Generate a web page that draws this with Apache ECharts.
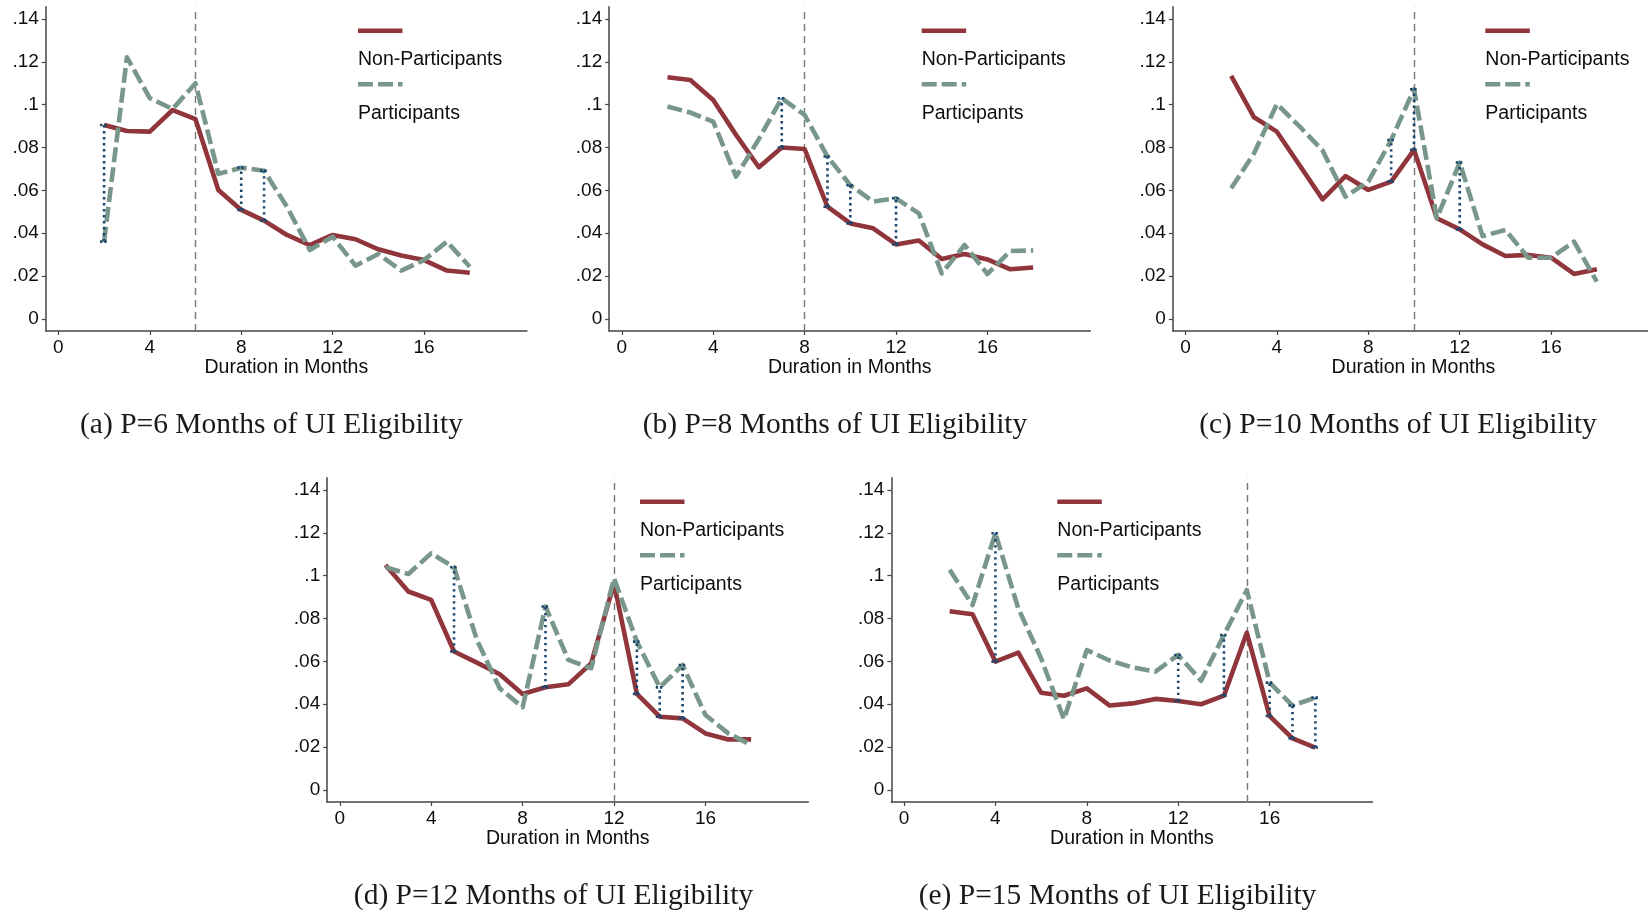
<!DOCTYPE html>
<html><head><meta charset="utf-8">
<script src="https://cdn.jsdelivr.net/npm/echarts@6/dist/echarts.min.js"></script>
<style>html,body{margin:0;padding:0;background:#fff}#c{width:1648px;height:910px}</style>
</head><body><div id="c"></div>
<script>
// ---- data ----
const months = [2,3,4,5,6,7,8,9,10,11,12,13,14,15,16,17,18];
const xTicks = [0,4,8,12,16];
const yTicks = [0,0.02,0.04,0.06,0.08,0.1,0.12,0.14];
const seriesNames = ['Non-Participants','Participants'];
const axisName = 'Duration in Months';
const cutoffs = [6,8,10,12,15];
const captions = ['(a) P=6 Months of UI Eligibility','(b) P=8 Months of UI Eligibility','(c) P=10 Months of UI Eligibility','(d) P=12 Months of UI Eligibility','(e) P=15 Months of UI Eligibility'];

const nonA  = [0.0905,0.0877,0.0874,0.0975,0.0932,0.0602,0.0509,0.0459,0.0392,0.0345,0.0392,0.0372,0.0325,0.0296,0.0275,0.0226,0.0216];
const partA = [0.0361,0.1221,0.1030,0.0980,0.1100,0.0677,0.0706,0.0692,0.0524,0.0322,0.0384,0.0249,0.0303,0.0226,0.0275,0.0361,0.0244];
const gapA  = [2,8,9];

const nonB  = [0.1128,0.1115,0.1022,0.0859,0.0708,0.0800,0.0793,0.0524,0.0446,0.0423,0.0348,0.0366,0.0280,0.0303,0.0278,0.0232,0.0240];
const partB = [0.0991,0.0963,0.0921,0.0664,0.0840,0.1030,0.0952,0.0758,0.0624,0.0548,0.0563,0.0493,0.0213,0.0345,0.0210,0.0317,0.0320];
const gapB  = [7,9,10,12];

const nonC  = [0.1134,0.0941,0.0874,0.0716,0.0558,0.0667,0.0602,0.0641,0.0789,0.0470,0.0418,0.0348,0.0294,0.0299,0.0286,0.0210,0.0232];
const partC = [0.0610,0.0773,0.1003,0.0898,0.0786,0.0571,0.0641,0.0835,0.1072,0.0470,0.0730,0.0387,0.0415,0.0286,0.0286,0.0361,0.0174];
const gapC  = [9,10,12];

const nonD  = [0.1050,0.0926,0.0887,0.0646,0.0594,0.0540,0.0448,0.0479,0.0493,0.0591,0.0964,0.0448,0.0342,0.0334,0.0264,0.0236,0.0236];
const partD = [0.1039,0.1008,0.1104,0.1039,0.0700,0.0474,0.0386,0.0856,0.0607,0.0568,0.0988,0.0692,0.0479,0.0583,0.0350,0.0264,0.0210];
const gapD  = [5,9,13,14,15];

const nonE  = [0.0834,0.0820,0.0599,0.0641,0.0454,0.0440,0.0474,0.0394,0.0404,0.0425,0.0415,0.0400,0.0440,0.0734,0.0345,0.0241,0.0198];
const partE = [0.1027,0.0863,0.1198,0.0848,0.0614,0.0330,0.0653,0.0604,0.0572,0.0552,0.0630,0.0510,0.0723,0.0933,0.0501,0.0394,0.0431];
const gapE  = [4,12,14,16,17,18];

// ---- layout / style ----
const RED = '#90353B', GREEN = '#78978A', NAVY = '#1A476F', AXIS = '#444', TXT = '#0d0d0d';
const SANS = '"Liberation Sans", Arial, sans-serif';
const SERIF = '"Liberation Serif", "Times New Roman", serif';
const GW = 481.1, GH = 324.3;
const panels = [
  {non: nonA, part: partA, gaps: gapA, left: 45.8,   top: 6.7,   legX: 358,    capX: 271.5,  capY: 425},
  {non: nonB, part: partB, gaps: gapB, left: 609.2,  top: 6.7,   legX: 921.7,  capX: 835,    capY: 425},
  {non: nonC, part: partC, gaps: gapC, left: 1172.9, top: 6.7,   legX: 1485.3, capX: 1398,   capY: 425},
  {non: nonD, part: partD, gaps: gapD, left: 327.2,  top: 477.7, legX: 640,    capX: 553.5,  capY: 896},
  {non: nonE, part: partE, gaps: gapE, left: 891.4,  top: 477.7, legX: 1057.3, capX: 1117.5, capY: 896}
];

function yFmt(v) {
  if (Math.abs(v) < 1e-9) return '0';
  return String(+v.toFixed(2)).replace(/^0/, '');
}

const grids = [], xAxes = [], yAxes = [], series = [], graphics = [];
panels.forEach((p, i) => {
  grids.push({left: p.left, top: p.top, width: GW, height: GH, containLabel: false, outerBoundsMode: 'none'});
  xAxes.push({
    type: 'value', gridIndex: i, min: -0.55, max: 20.5,
    axisLine: {show: true, onZero: false, lineStyle: {color: AXIS, width: 1.5}},
    axisTick: {show: true, length: 4, customValues: xTicks, lineStyle: {color: AXIS, width: 1.2}},
    axisLabel: {customValues: xTicks, fontSize: 19, color: TXT, margin: 7, fontFamily: SANS},
    splitLine: {show: false},
    name: axisName, nameLocation: 'middle', nameGap: 26,
    nameTextStyle: {fontSize: 19.5, color: TXT, fontFamily: SANS}
  });
  yAxes.push({
    type: 'value', gridIndex: i, min: -0.0056, max: 0.1457,
    axisLine: {show: true, onZero: false, lineStyle: {color: AXIS, width: 1.5}},
    axisTick: {show: true, length: 4, customValues: yTicks, lineStyle: {color: AXIS, width: 1.2}},
    axisLabel: {customValues: yTicks, formatter: yFmt, fontSize: 19, color: TXT, margin: 7, fontFamily: SANS},
    splitLine: {show: false}
  });
  series.push({
    name: seriesNames[0], type: 'line', xAxisIndex: i, yAxisIndex: i,
    data: months.map((m, k) => [m, p.non[k]]),
    showSymbol: false, symbol: 'none', z: 2,
    lineStyle: {color: RED, width: 4.6, join: 'round'},
    markLine: {
      silent: true, symbol: ['none', 'none'], label: {show: false},
      lineStyle: {color: '#777', width: 1.4, type: [7, 5]},
      data: [{xAxis: cutoffs[i]}], z: 1
    }
  });
  series.push({
    name: seriesNames[1], type: 'line', xAxisIndex: i, yAxisIndex: i,
    data: months.map((m, k) => [m, p.part[k]]),
    showSymbol: false, symbol: 'none', z: 3,
    lineStyle: {color: GREEN, width: 4.6, type: [15, 5], join: 'round'}
  });
  series.push({
    type: 'custom', xAxisIndex: i, yAxisIndex: i, z: 4,
    data: p.gaps.map(g => { const k = months.indexOf(g); return [g, p.non[k], p.part[k]]; }),
    encode: {x: 0, y: [1, 2]},
    renderItem: function (params, api) {
      const x = api.value(0);
      const a = api.coord([x, api.value(1)]);
      const b = api.coord([x, api.value(2)]);
      const st = {stroke: NAVY, lineWidth: 2.6, lineDash: [2.4, 3.6], fill: null};
      const cap = {stroke: NAVY, lineWidth: 2.6, lineDash: [2.4, 1.8], fill: null};
      return {type: 'group', children: [
        {type: 'line', shape: {x1: a[0], y1: a[1], x2: b[0], y2: b[1]}, style: st},
        {type: 'line', shape: {x1: a[0] - 4, y1: a[1], x2: a[0] + 4, y2: a[1]}, style: cap},
        {type: 'line', shape: {x1: b[0] - 4, y1: b[1], x2: b[0] + 4, y2: b[1]}, style: cap}
      ]};
    }
  });
  // legend (sample above label, as in the reference)
  const t = p.top;
  graphics.push({type: 'line', shape: {x1: p.legX, y1: t + 24.1, x2: p.legX + 44.5, y2: t + 24.1}, style: {stroke: RED, lineWidth: 4.6}});
  graphics.push({type: 'text', x: p.legX, y: t + 52.8, style: {text: seriesNames[0], fill: TXT, fontSize: 19.5, fontFamily: SANS, align: 'left', verticalAlign: 'middle'}});
  graphics.push({type: 'line', shape: {x1: p.legX, y1: t + 77.5, x2: p.legX + 44.5, y2: t + 77.5}, style: {stroke: GREEN, lineWidth: 4.6, lineDash: [15, 5]}});
  graphics.push({type: 'text', x: p.legX, y: t + 106.8, style: {text: seriesNames[1], fill: TXT, fontSize: 19.5, fontFamily: SANS, align: 'left', verticalAlign: 'middle'}});
  graphics.push({type: 'text', x: p.capX, y: p.capY, style: {text: captions[i], fill: '#1a1a1a', fontSize: 29.5, fontFamily: SERIF, align: 'center', verticalAlign: 'middle'}});
});

const chart = echarts.init(document.getElementById('c'), null, {renderer: 'canvas'});
chart.setOption({
  animation: false,
  backgroundColor: '#fff',
  grid: grids, xAxis: xAxes, yAxis: yAxes, series: series,
  graphic: {elements: graphics}
});
</script>
</body></html>
